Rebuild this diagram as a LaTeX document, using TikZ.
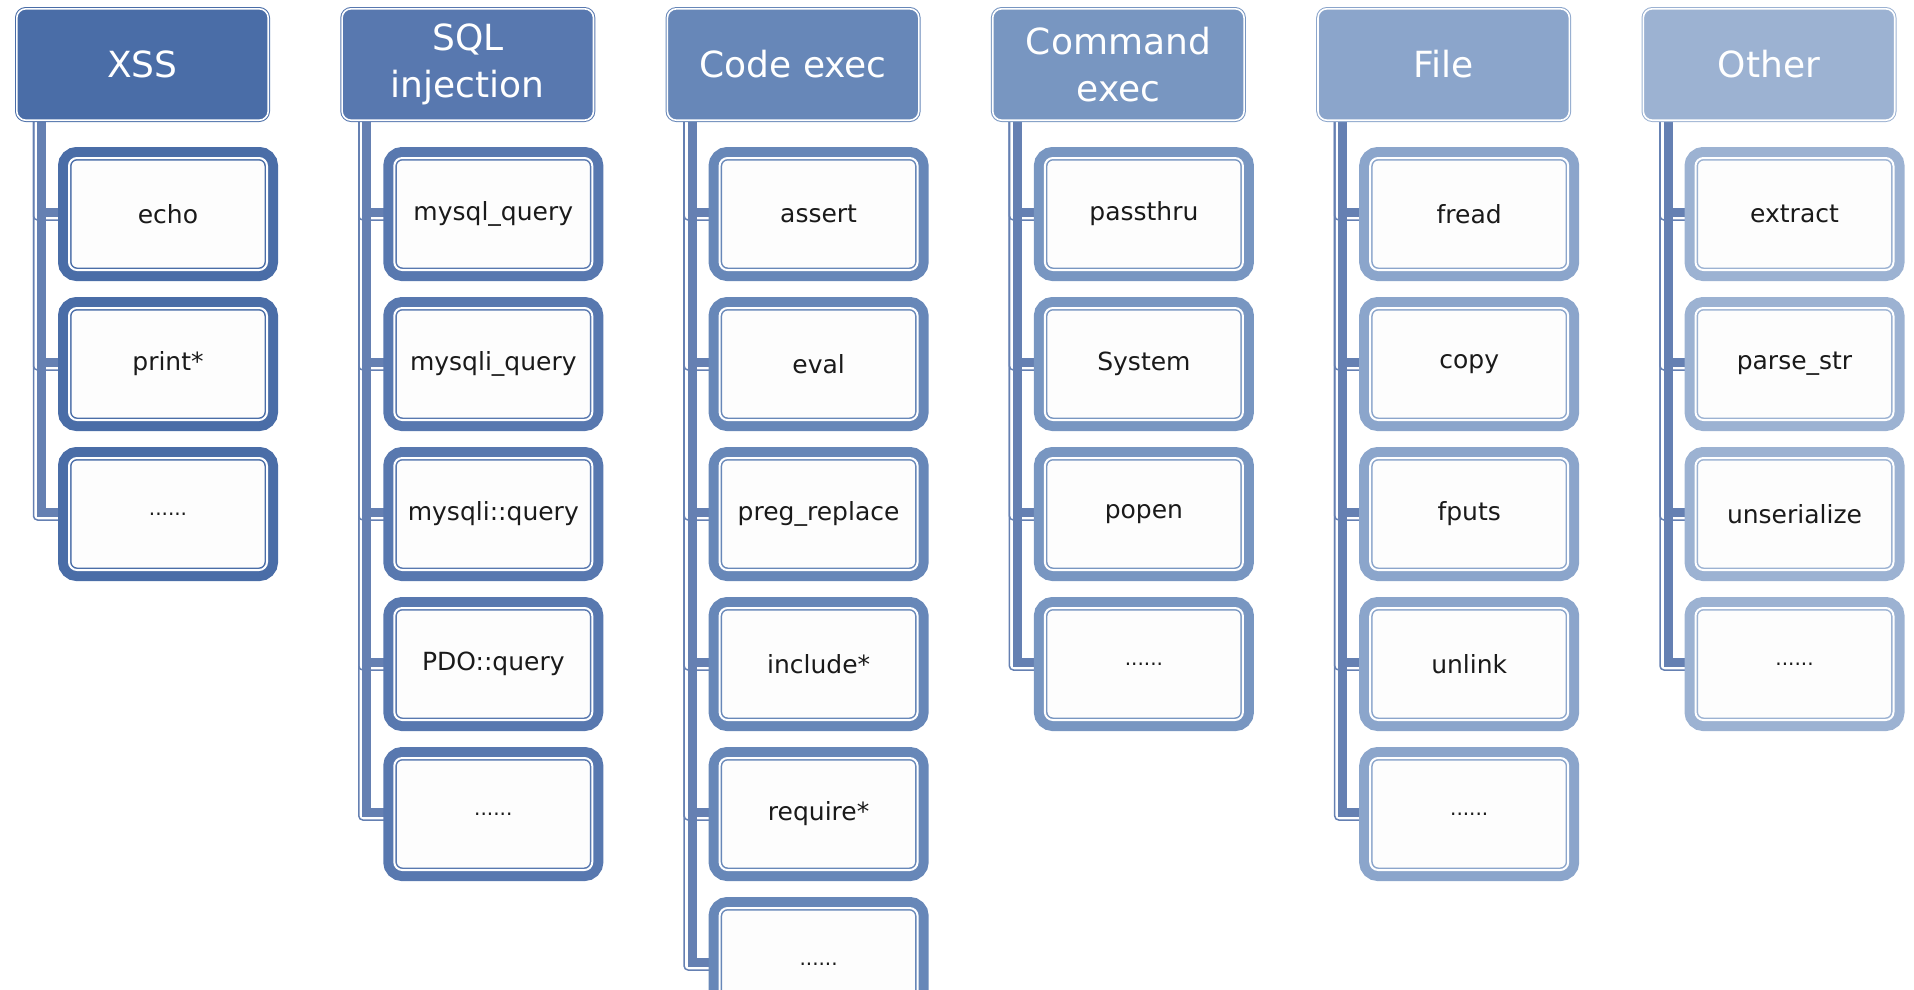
\documentclass[tikz,border=0pt]{standalone}
\usepackage{fontspec}
\setmainfont{DejaVu Sans}
\usetikzlibrary{backgrounds}
\definecolor{cA}{HTML}{4A6DA7}
\definecolor{cB}{HTML}{5878AF}
\definecolor{cC}{HTML}{6787B8}
\definecolor{cD}{HTML}{7896C1}
\definecolor{cE}{HTML}{8BA5CB}
\definecolor{cF}{HTML}{9CB2D2}
\definecolor{conn}{HTML}{6580B2}
\definecolor{boxfill}{HTML}{FDFDFD}
\definecolor{itemtext}{HTML}{1A1A1A}
\tikzset{
  hdr/.style={rectangle, rounded corners=9pt, fill=#1, draw=#1, line width=1pt,
    double=white, double distance=1.6pt, minimum width=251.4pt, minimum height=111.4pt,
    inner sep=0pt, outer sep=0pt, text=white, align=center,
    font=\fontsize{36}{47}\selectfont},
  item/.style={rectangle, rounded corners=8pt, preaction={draw=#1, line width=22pt},
    fill=boxfill, draw=#1, line width=1.5pt, double=white, double distance=2pt,
    minimum width=198pt, minimum height=112pt, inner sep=0pt, outer sep=0pt,
    text=itemtext, font=\fontsize{25}{30}\selectfont},
  bar/.style={draw=conn, line width=9pt},
  rail/.style={draw=conn, line width=1.5pt, rounded corners=4pt},
}
\newcommand{\dotsix}{{\fontsize{20}{24}\selectfont ......}}
\begin{document}
\begin{tikzpicture}[x=1pt, y=-1pt]
\useasboundingbox (0,0) rectangle (1914,989);
\clip (0,0) rectangle (1914,989);

% headers
\node[hdr=cA] (h1) at (142.5,64.5) {XSS};
\node[hdr=cB] (h2) at (467.8,64.5) {SQL\\injection};
\node[hdr=cC] (h3) at (793.1,64.5) {Code exec};
\node[hdr=cD] (h4) at (1118.4,64.5) {Command\\exec};
\node[hdr=cE] (h5) at (1443.7,64.5) {File};
\node[hdr=cF] (h6) at (1769.0,64.5) {Other};

% XSS
\node[item=cA] (a1) at (168,214) {echo};
\node[item=cA] (a2) at (168,364) {print*};
\node[item=cA] (a3) at (168,514) {\dotsix};
% SQL
\node[item=cB] (b1) at (493.3,214) {mysql\_query};
\node[item=cB] (b2) at (493.3,364) {mysqli\_query};
\node[item=cB] (b3) at (493.3,514) {mysqli::query};
\node[item=cB] (b4) at (493.3,664) {PDO::query};
\node[item=cB] (b5) at (493.3,814) {\dotsix};
% Code exec
\node[item=cC] (k1) at (818.6,214) {assert};
\node[item=cC] (k2) at (818.6,364) {eval};
\node[item=cC] (k3) at (818.6,514) {preg\_replace};
\node[item=cC] (k4) at (818.6,664) {include*};
\node[item=cC] (k5) at (818.6,814) {require*};
\node[item=cC] (k6) at (818.6,964) {\dotsix};
% Command exec
\node[item=cD] (d1) at (1143.9,214) {passthru};
\node[item=cD] (d2) at (1143.9,364) {System};
\node[item=cD] (d3) at (1143.9,514) {popen};
\node[item=cD] (d4) at (1143.9,664) {\dotsix};
% File
\node[item=cE] (e1) at (1469.2,214) {fread};
\node[item=cE] (e2) at (1469.2,364) {copy};
\node[item=cE] (e3) at (1469.2,514) {fputs};
\node[item=cE] (e4) at (1469.2,664) {unlink};
\node[item=cE] (e5) at (1469.2,814) {\dotsix};
% Other
\node[item=cF] (f1) at (1794.5,214) {extract};
\node[item=cF] (f2) at (1794.5,364) {parse\_str};
\node[item=cF] (f3) at (1794.5,514) {unserialize};
\node[item=cF] (f4) at (1794.5,664) {\dotsix};

\begin{scope}[on background layer]
  \foreach \h/\list in {h1/{a1,a2,a3}, h2/{b1,b2,b3,b4,b5}, h3/{k1,k2,k3,k4,k5,k6},
                        h4/{d1,d2,d3,d4}, h5/{e1,e2,e3,e4,e5}, h6/{f1,f2,f3,f4}} {
    \foreach \c in \list {
      \draw[rail] ([xshift=16.7pt]\h.south west) |- ([yshift=-6pt]\c.west);
      \draw[bar] ([xshift=24.7pt]\h.south west) |- ([yshift=2pt]\c.west);
    }
  }
\end{scope}
\end{tikzpicture}
\end{document}
